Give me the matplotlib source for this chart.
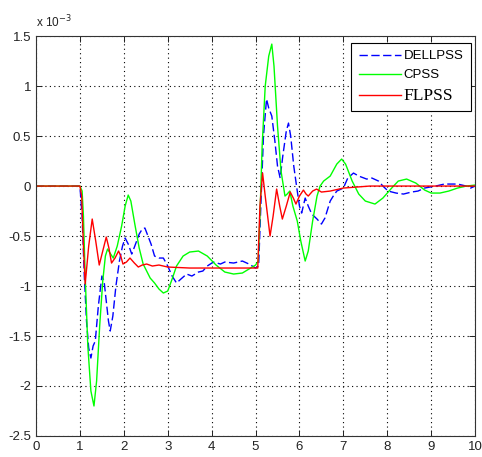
import numpy as np
import matplotlib
matplotlib.use("Agg")
import matplotlib.pyplot as plt

# values in units of 1e-3
t_dell = [0, 1.0, 1.05, 1.1, 1.15, 1.2, 1.25, 1.3, 1.35, 1.42, 1.5, 1.55, 1.6, 1.65, 1.69,
          1.75, 1.82, 1.9, 1.97, 2.03, 2.1, 2.18, 2.25, 2.35, 2.42, 2.48, 2.55, 2.62, 2.7,
          2.8, 2.9, 3.0, 3.1, 3.2, 3.3, 3.43, 3.55, 3.7, 3.8, 3.9, 4.04, 4.2, 4.3, 4.5, 4.7,
          4.85, 5.0, 5.07, 5.12, 5.18, 5.25, 5.3, 5.37, 5.44, 5.5, 5.56, 5.62, 5.7, 5.75,
          5.8, 5.87, 5.94, 6.0, 6.05, 6.13, 6.2, 6.28, 6.4, 6.5, 6.58, 6.7, 6.77, 6.85, 7.0,
          7.1, 7.23, 7.35, 7.53, 7.65, 7.8, 7.9, 8.02, 8.2, 8.37, 8.55, 8.7, 8.85, 8.97, 9.1,
          9.3, 9.6, 9.8, 9.9, 10]
y_dell = [0, 0, -0.3, -0.9, -1.35, -1.62, -1.72, -1.6, -1.55, -1.2, -0.9, -0.95, -1.15, -1.35,
          -1.45, -1.3, -1.0, -0.75, -0.6, -0.52, -0.58, -0.68, -0.6, -0.48, -0.43, -0.42, -0.5,
          -0.58, -0.7, -0.72, -0.72, -0.8, -0.9, -0.97, -0.93, -0.88, -0.9, -0.86, -0.85, -0.8,
          -0.76, -0.78, -0.76, -0.77, -0.75, -0.78, -0.82, -0.8, -0.2, 0.5, 0.87, 0.78, 0.7,
          0.45, 0.2, 0.08, 0.3, 0.55, 0.63, 0.5, 0.2, -0.02, -0.2, -0.27, -0.12, -0.2, -0.28,
          -0.33, -0.38, -0.32, -0.15, -0.1, -0.05, -0.02, 0.08, 0.13, 0.1, 0.07, 0.08, 0.05,
          0.0, -0.05, -0.07, -0.08, -0.06, -0.05, -0.02, -0.01, 0.0, 0.02, 0.02, 0.0, -0.02, 0.0]

t_cpss = [0, 1.0, 1.05, 1.08, 1.12, 1.18, 1.25, 1.32, 1.38, 1.45, 1.52, 1.58, 1.63, 1.7, 1.76,
          1.85, 1.95, 2.03, 2.1, 2.16, 2.25, 2.35, 2.44, 2.52, 2.6, 2.7, 2.8, 2.9, 3.0, 3.1,
          3.2, 3.35, 3.5, 3.7, 3.9, 4.1, 4.3, 4.5, 4.7, 4.85, 5.0, 5.06, 5.1, 5.15, 5.22, 5.3,
          5.37, 5.42, 5.5, 5.58, 5.67, 5.72, 5.78, 5.85, 5.95, 6.03, 6.13, 6.2, 6.3, 6.4, 6.47,
          6.55, 6.7, 6.85, 6.96, 7.05, 7.2, 7.35, 7.5, 7.72, 7.9, 8.1, 8.25, 8.44, 8.65, 8.85,
          9.0, 9.2, 9.4, 9.6, 9.8, 10]
y_cpss = [0, 0, -0.05, -0.3, -0.9, -1.6, -2.05, -2.2, -1.95, -1.4, -0.95, -0.7, -0.63, -0.68,
          -0.72, -0.6, -0.4, -0.2, -0.09, -0.15, -0.38, -0.62, -0.78, -0.85, -0.92, -0.97,
          -1.03, -1.07, -1.05, -0.93, -0.8, -0.7, -0.66, -0.65, -0.7, -0.79, -0.86, -0.88,
          -0.87, -0.83, -0.79, -0.75, -0.3, 0.4, 1.0, 1.3, 1.42, 1.2, 0.6, 0.15, -0.1, -0.08,
          -0.05, -0.2, -0.35, -0.55, -0.75, -0.65, -0.35, -0.1, 0.0, 0.05, 0.1, 0.22, 0.27,
          0.22, 0.05, -0.08, -0.15, -0.18, -0.12, -0.02, 0.05, 0.07, 0.03, -0.04, -0.07, -0.07,
          -0.05, -0.02, 0.0, 0.01]

t_flpss = [0, 1.0, 1.04, 1.08, 1.12, 1.2, 1.28, 1.36, 1.44, 1.52, 1.6, 1.66, 1.72, 1.8, 1.88,
           1.93, 1.98, 2.06, 2.14, 2.24, 2.33, 2.42, 2.52, 2.65, 2.8, 3.0, 3.5, 4.0, 4.5, 5.05,
           5.1, 5.16, 5.22, 5.33, 5.4, 5.48, 5.55, 5.61, 5.7, 5.79, 5.86, 5.92, 6.0, 6.09, 6.15,
           6.2, 6.3, 6.39, 6.5, 6.7, 7.0, 7.3, 7.6, 10]
y_flpss = [0, 0, -0.1, -0.6, -0.98, -0.6, -0.33, -0.55, -0.79, -0.65, -0.51, -0.62, -0.77,
           -0.72, -0.65, -0.7, -0.78, -0.76, -0.72, -0.77, -0.81, -0.79, -0.78, -0.8, -0.79,
           -0.81, -0.82, -0.82, -0.82, -0.82, -0.2, 0.13, -0.1, -0.5, -0.3, -0.03, -0.2, -0.33,
           -0.2, -0.06, -0.12, -0.18, -0.1, -0.04, -0.08, -0.1, -0.05, -0.03, -0.06, -0.05,
           -0.02, -0.01, 0.0, 0.0]

plt.rcParams.update({
    "font.family": ["Liberation Sans", "DejaVu Sans"],
    "xtick.direction": "in",
    "ytick.direction": "in",
    "xtick.top": True,
    "ytick.right": True,
})

fig = plt.figure(figsize=(4.82, 4.57), dpi=100)
ax = fig.add_axes([0.0747, 0.046, 0.911, 0.875])

ax.plot(t_dell, y_dell, color="#0000ff", lw=1.0, dashes=(6, 2.5), label="DELLPSS")
ax.plot(t_cpss, y_cpss, color="#00ff00", lw=1.0, label="CPSS")
ax.plot(t_flpss, y_flpss, color="#ff0000", lw=1.0, label="FLPSS")

ax.set_xlim(0, 10)
ax.set_ylim(-2.5, 1.5)
ax.set_xticks(np.arange(0, 11, 1))
ax.set_yticks(np.arange(-2.5, 1.51, 0.5))
ax.set_yticklabels(["-2.5", "-2", "-1.5", "-1", "-0.5", "0", "0.5", "1", "1.5"])
ax.tick_params(labelsize=9.5, colors="#222222", length=4, width=0.7)
ax.grid(True, color="black", ls=(0, (1, 3)), lw=0.8)
for s in ax.spines.values():
    s.set_linewidth(0.8)
    s.set_color("#333333")

ax.text(0.0, 1.015, r"x 10$^{-3}$", transform=ax.transAxes, fontsize=8.5,
        color="#222222", ha="left", va="bottom")

leg = ax.legend(loc="upper right", bbox_to_anchor=(0.99, 0.983), fontsize=9.5,
                handlelength=3.2, fancybox=False, framealpha=1, edgecolor="black",
                borderaxespad=0, labelspacing=0.5, handletextpad=0.2, borderpad=0.55)
leg.get_frame().set_linewidth(0.8)
ftxt = leg.get_texts()[2]
ftxt.set_fontfamily("Liberation Serif")
ftxt.set_fontsize(12.5)

fig.savefig("out.png", dpi=100)
